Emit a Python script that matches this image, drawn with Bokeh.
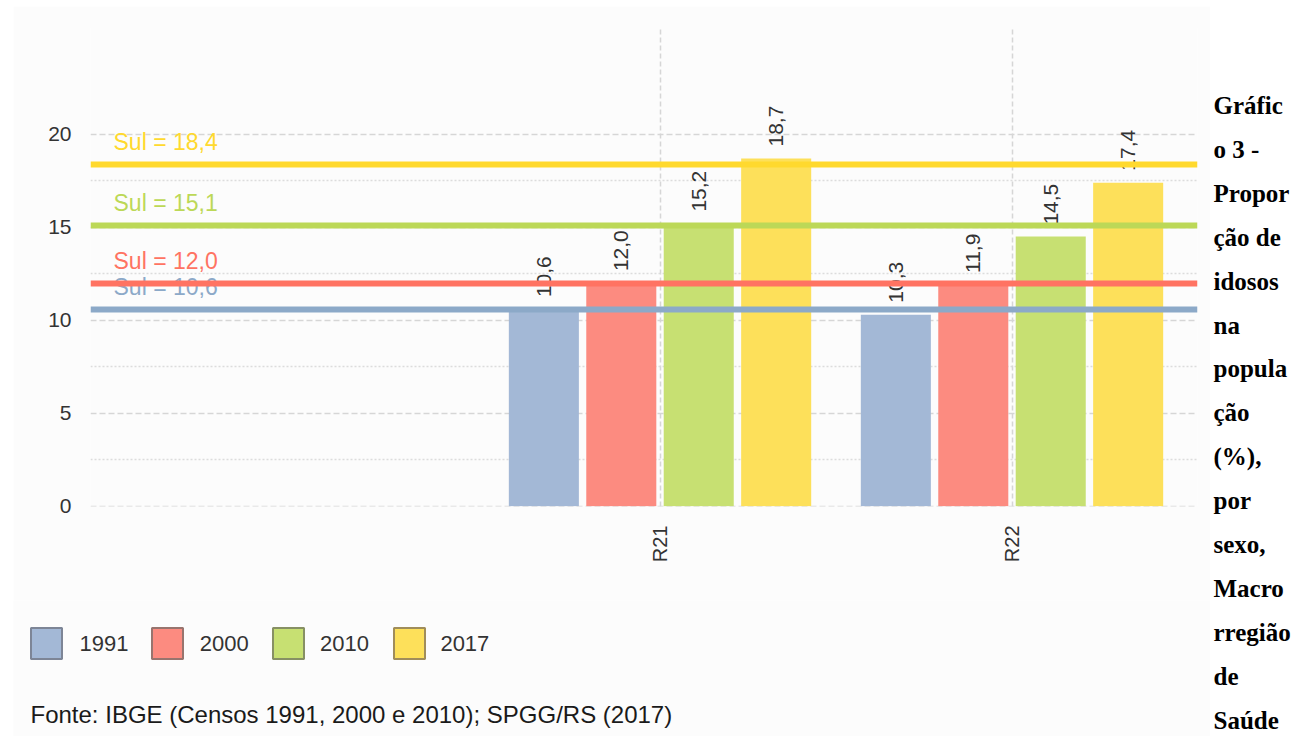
from math import pi
from bokeh.plotting import figure
from bokeh.models import Range1d, FixedTicker, Spacer
from bokeh.layouts import row, column
from bokeh.embed import file_html
from bokeh.resources import INLINE
from bokeh.core.properties import value

# ---------------- data ----------------
regions = ["R21", "R22"]
years = ["1991", "2000", "2010", "2017"]
vals_1991 = [10.6, 10.3]
vals_2000 = [12.0, 11.9]
vals_2010 = [15.2, 14.5]
vals_2017 = [18.7, 17.4]
sul_vals = [10.6, 12.0, 15.1, 18.4]
y_ticks = [0, 5, 10, 15, 20]
y_minor = [2.5, 7.5, 12.5, 17.5]
source_note = "Fonte: IBGE (Censos 1991, 2000 e 2010); SPGG/RS (2017)"
title_lines = ["Gráfic", "o 3 -", "Propor", "ção de", "idosos", "na", "popula",
               "ção", "(%),", "por", "sexo,", "Macro", "rregião", "de", "Saúde"]

# ---------------- style ----------------
bar_colors = ["#a3b8d6", "#fc8b80", "#c7e072", "#fde05a"]
line_colors = ["#8ca9c8", "#ff7362", "#bcd857", "#ffd92e"]
border_colors = ["#7d8596", "#98746e", "#879064", "#a08d5a"]
offsets = [-0.33, -0.11, 0.11, 0.33]
BAR_W = 0.199
X0, X1 = -0.618, 2.527
PANEL = "#fcfcfc"
SANS = value("Liberation Sans")
TXT = "#333333"

series = [vals_1991, vals_2000, vals_2010, vals_2017]
cat_pos = [i + 1 for i in range(len(regions))]

p = figure(width=1197, height=594, x_range=Range1d(X0, X1), y_range=Range1d(-0.02, 25.75),
           output_backend="svg", toolbar_location=None,
           min_border_left=77, min_border_right=13, min_border_top=21, min_border_bottom=94,
           background_fill_color=PANEL, border_fill_color=PANEL, outline_line_color=None)

# axes
p.yaxis.ticker = FixedTicker(ticks=y_ticks, minor_ticks=y_minor)
p.xaxis.ticker = FixedTicker(ticks=cat_pos)
p.xaxis.major_label_overrides = {c: r for c, r in zip(cat_pos, regions)}
p.xaxis.major_label_orientation = pi / 2
for ax in (p.xaxis, p.yaxis):
    ax.axis_line_color = None
    ax.major_tick_line_color = None
    ax.minor_tick_line_color = None
    ax.major_tick_in = 0
    ax.major_tick_out = 0
    ax.minor_tick_in = 0
    ax.minor_tick_out = 0
    ax.major_label_text_color = TXT
    ax.major_label_text_font = "Liberation Sans"
    ax.major_label_standoff = 19
p.yaxis.major_label_text_font_size = "21px"
p.xaxis.major_label_text_font_size = "20px"

# grids
p.ygrid.grid_line_color = "#d6d6d6"
p.ygrid.grid_line_dash = "6 3"
p.ygrid.grid_line_width = 1.5
p.ygrid.minor_grid_line_color = "#dcdcdc"
p.ygrid.minor_grid_line_dash = "2 2"
p.ygrid.minor_grid_line_width = 1.5
p.xgrid.grid_line_color = "#d6d6d6"
p.xgrid.grid_line_dash = "5 3"
p.xgrid.grid_line_width = 1.5

# bars and value labels
for j, vals in enumerate(series):
    xs = [c + offsets[j] for c in cat_pos]
    p.vbar(x=xs, top=vals, width=BAR_W, bottom=0, fill_color=bar_colors[j], line_color=None)
    p.text(x=xs, y=vals, text=[f"{v:.1f}".replace(".", ",") for v in vals],
           angle=pi / 2, text_align="left", text_baseline="middle", y_offset=-12,
           text_font=SANS, text_font_size="21px", text_color=TXT)

# Sul reference labels and lines
p.text(x=[X0] * len(sul_vals), y=sul_vals,
       text=[f"Sul = {v:.1f}".replace(".", ",") for v in sul_vals],
       x_offset=23, y_offset=-22, text_align="left", text_baseline="middle",
       text_font=SANS, text_font_size="23px", text_color=line_colors)
p.hspan(y=sul_vals, line_color=line_colors, line_width=6)

# ---------------- legend + source (own figure, page-pixel coordinates) ----------------
leg = figure(width=1197, height=136, x_range=Range1d(13, 1210), y_range=Range1d(736, 600),
             output_backend="svg", toolbar_location=None, x_axis_type=None, y_axis_type=None,
             min_border=0, min_border_left=0, min_border_right=0, min_border_top=0, min_border_bottom=0,
             background_fill_color=PANEL, border_fill_color=PANEL, outline_line_color=None)
leg.grid.visible = False
lx = [46 + 121 * i for i in range(len(years))]
leg.rect(x=lx, y=[643] * len(years), width=31, height=31,
         fill_color=bar_colors, line_color=border_colors, line_width=2)
leg.text(x=[79 + 120.3 * i for i in range(len(years))], y=[643] * len(years), text=years,
         text_align="left", text_baseline="middle",
         text_font=SANS, text_font_size="22px", text_color=TXT)
leg.text(x=[30], y=[714], text=[source_note], text_align="left", text_baseline="middle",
         text_font=SANS, text_font_size="24px", text_color="#1a1a1a")

# ---------------- side caption ----------------
tf = figure(width=89, height=736, x_range=Range1d(1210, 1299), y_range=Range1d(736, 0),
            output_backend="svg", toolbar_location=None, x_axis_type=None, y_axis_type=None,
            min_border=0, min_border_left=0, min_border_right=0, min_border_top=0, min_border_bottom=0,
            background_fill_color="white", border_fill_color="white", outline_line_color=None)
tf.grid.visible = False
tf.text(x=[1213] * len(title_lines), y=[105 + 43.9 * i for i in range(len(title_lines))],
        text=title_lines, text_align="left", text_baseline="middle",
        text_font=value("Liberation Serif"), text_font_style="bold",
        text_font_size="25px", text_color="black")

layout = row(Spacer(width=13, height=736),
             column(Spacer(width=1197, height=6), p, row(leg)), tf)
open("out.html", "w").write(file_html(layout, INLINE))
